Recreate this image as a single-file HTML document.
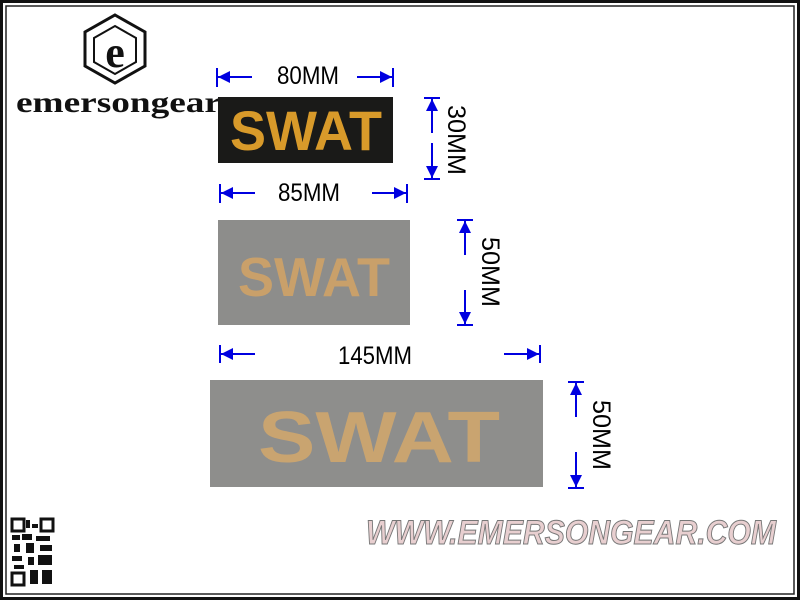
<!DOCTYPE html>
<html><head><style>body{margin:0;background:#fff}svg{display:block}</style></head><body>
<svg width="800" height="600" viewBox="0 0 800 600" xmlns="http://www.w3.org/2000/svg" font-family="Liberation Sans, sans-serif">
<defs>
<marker id="a" viewBox="0 0 10 10" refX="10" refY="5" markerWidth="10" markerHeight="6" orient="auto-start-reverse" markerUnits="strokeWidth"><path d="M0,0L10,5L0,10z" fill="#0000e0"/></marker>
</defs>
<rect width="800" height="600" fill="#fff"/>
<rect x="1.5" y="1.5" width="797" height="597" fill="none" stroke="#111" stroke-width="3"/>
<rect x="6" y="6" width="788" height="588" fill="none" stroke="#222" stroke-width="1.5"/>
<!-- logo -->
<polygon points="115,15 145,32 145,66 115,83 85,66 85,32" fill="none" stroke="#111" stroke-width="3"/>
<polygon points="115,26 136,38 136,62 115,74 94,62 94,38" fill="#fff" stroke="#111" stroke-width="2"/>
<text x="115" y="67" font-family="Liberation Serif, serif" font-weight="bold" font-size="44" text-anchor="middle" fill="#111">e</text>
<text x="16" y="112" font-family="Liberation Serif, serif" font-weight="bold" font-size="30" fill="#111" textLength="205" lengthAdjust="spacingAndGlyphs">emersongear</text>
<!-- patch 1 -->
<rect x="218" y="97" width="175" height="66" fill="#1a1a18"/>
<text x="230" y="150" font-weight="bold" font-size="56" fill="#d89a2a" textLength="152" lengthAdjust="spacingAndGlyphs">SWAT</text>
<!-- patch 2 -->
<rect x="218" y="220" width="192" height="105" fill="#8d8d8b"/>
<text x="238" y="296" font-weight="bold" font-size="55" fill="#c9a06a" textLength="152" lengthAdjust="spacingAndGlyphs">SWAT</text>
<!-- patch 3 -->
<rect x="210" y="380" width="333" height="107" fill="#8e8e8c"/>
<text x="258" y="462" font-weight="bold" font-size="72" fill="#c9a470" textLength="242" lengthAdjust="spacingAndGlyphs">SWAT</text>
<!-- dims -->
<g stroke="#0000e0" stroke-width="2" fill="none">
<line x1="217" y1="68" x2="217" y2="87"/><line x1="393" y1="68" x2="393" y2="87"/>
<line x1="252" y1="77" x2="218" y2="77" marker-end="url(#a)"/><line x1="357" y1="77" x2="392" y2="77" marker-end="url(#a)"/>
<line x1="424" y1="98" x2="440" y2="98"/><line x1="424" y1="179" x2="440" y2="179"/>
<line x1="432" y1="133" x2="432" y2="99" marker-end="url(#a)"/><line x1="432" y1="143" x2="432" y2="178" marker-end="url(#a)"/>
<line x1="220" y1="184" x2="220" y2="203"/><line x1="407" y1="184" x2="407" y2="203"/>
<line x1="255" y1="193" x2="221" y2="193" marker-end="url(#a)"/><line x1="372" y1="193" x2="406" y2="193" marker-end="url(#a)"/>
<line x1="457" y1="220" x2="473" y2="220"/><line x1="457" y1="325" x2="473" y2="325"/>
<line x1="465" y1="255" x2="465" y2="221" marker-end="url(#a)"/><line x1="465" y1="290" x2="465" y2="324" marker-end="url(#a)"/>
<line x1="220" y1="345" x2="220" y2="363"/><line x1="540" y1="345" x2="540" y2="363"/>
<line x1="255" y1="354" x2="221" y2="354" marker-end="url(#a)"/><line x1="504" y1="354" x2="539" y2="354" marker-end="url(#a)"/>
<line x1="568" y1="382" x2="584" y2="382"/><line x1="568" y1="488" x2="584" y2="488"/>
<line x1="576" y1="417" x2="576" y2="383" marker-end="url(#a)"/><line x1="576" y1="452" x2="576" y2="487" marker-end="url(#a)"/>
</g>
<g font-size="25" fill="#000">
<text x="308" y="84" text-anchor="middle" textLength="62" lengthAdjust="spacingAndGlyphs">80MM</text>
<text x="309" y="201" text-anchor="middle" textLength="62" lengthAdjust="spacingAndGlyphs">85MM</text>
<text x="375" y="364" text-anchor="middle" textLength="74" lengthAdjust="spacingAndGlyphs">145MM</text>
<text transform="translate(448,140) rotate(90)" text-anchor="middle" textLength="70" lengthAdjust="spacingAndGlyphs">30MM</text>
<text transform="translate(482,272) rotate(90)" text-anchor="middle" textLength="70" lengthAdjust="spacingAndGlyphs">50MM</text>
<text transform="translate(593,435) rotate(90)" text-anchor="middle" textLength="70" lengthAdjust="spacingAndGlyphs">50MM</text>
</g>
<!-- QR -->
<g fill="#111">
<rect x="12" y="519" width="12" height="12" fill="none" stroke="#111" stroke-width="3"/>
<rect x="41" y="519" width="12" height="12" fill="none" stroke="#111" stroke-width="3"/>
<rect x="12" y="573" width="12" height="12" fill="none" stroke="#111" stroke-width="3"/>
<rect x="26" y="520" width="4" height="8"/><rect x="32" y="524" width="6" height="4"/>
<rect x="12" y="535" width="8" height="5"/><rect x="22" y="534" width="10" height="6"/><rect x="36" y="536" width="14" height="5"/>
<rect x="14" y="544" width="6" height="8"/><rect x="26" y="543" width="8" height="10"/><rect x="40" y="545" width="12" height="6"/>
<rect x="12" y="556" width="10" height="5"/><rect x="28" y="557" width="6" height="8"/><rect x="38" y="555" width="14" height="10"/>
<rect x="14" y="565" width="10" height="4"/><rect x="30" y="570" width="8" height="14"/><rect x="42" y="570" width="10" height="14"/>
</g>
<text x="366" y="544" font-weight="bold" font-style="italic" font-size="34" fill="#e8cfd0" stroke="#777" stroke-width="1" textLength="410" lengthAdjust="spacingAndGlyphs">WWW.EMERSONGEAR.COM</text>
</svg>
</body></html>
